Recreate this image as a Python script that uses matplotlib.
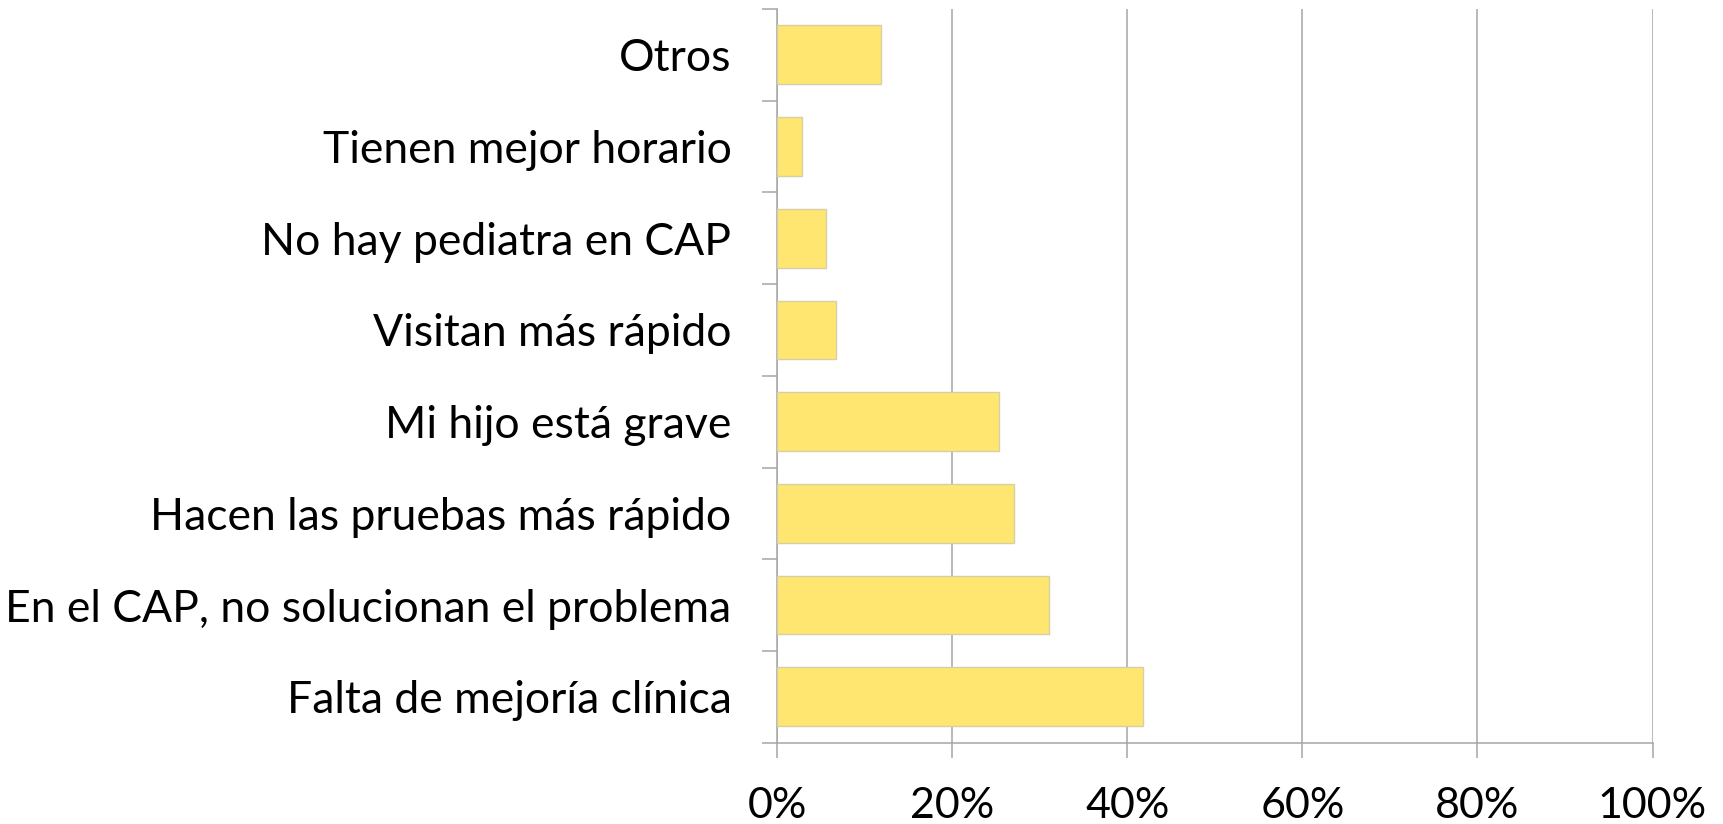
import matplotlib
matplotlib.use("Agg")
import matplotlib.pyplot as plt
from matplotlib.ticker import FixedLocator, PercentFormatter

categories = [
    "Falta de mejoría clínica",
    "En el CAP, no solucionan el problema",
    "Hacen las pruebas más rápido",
    "Mi hijo está grave",
    "Visitan más rápido",
    "No hay pediatra en CAP",
    "Tienen mejor horario",
    "Otros",
]
values = [41.8, 31.0, 27.1, 25.3, 6.7, 5.6, 2.8, 11.8]
xticks = [0, 20, 40, 60, 80, 100]

plt.rcParams['font.family'] = ['Lato', 'DejaVu Sans']

fig = plt.figure(figsize=(17.23, 8.24), dpi=100)
ax = fig.add_axes([0.4511, 0.0987, 0.5080, 0.8904])

grid_c = "#a6a6a6"
ypos = list(range(len(categories)))
ax.barh(ypos, values, height=0.64, color="#ffe671", edgecolor="#d6d0a6",
        linewidth=1.0, zorder=3)

ax.set_xlim(0, 100)
ax.set_ylim(-0.5, len(categories) - 0.5)
ax.set_xticks(xticks)
ax.xaxis.set_major_formatter(PercentFormatter(decimals=0))
ax.set_yticks(ypos)
ax.set_yticklabels(categories)
ax.yaxis.set_minor_locator(FixedLocator([i - 0.5 for i in range(len(categories) + 1)]))

ax.tick_params(axis='y', which='major', length=0, pad=33, labelsize=32, labelcolor='black')
ax.tick_params(axis='y', which='minor', length=10.8, width=1.1, color=grid_c, direction='out')
ax.tick_params(axis='x', which='major', length=10.8, width=1.1, color=grid_c, direction='out',
               pad=21, labelsize=31, labelcolor='black')

ax.grid(axis='x', color=grid_c, linewidth=1.1, zorder=0)
ax.set_axisbelow(True)
for s in ['top', 'right']:
    ax.spines[s].set_visible(False)
for s in ['left', 'bottom']:
    ax.spines[s].set_color(grid_c)
    ax.spines[s].set_linewidth(1.1)

fig.savefig("out.png", dpi=100, facecolor="white")
